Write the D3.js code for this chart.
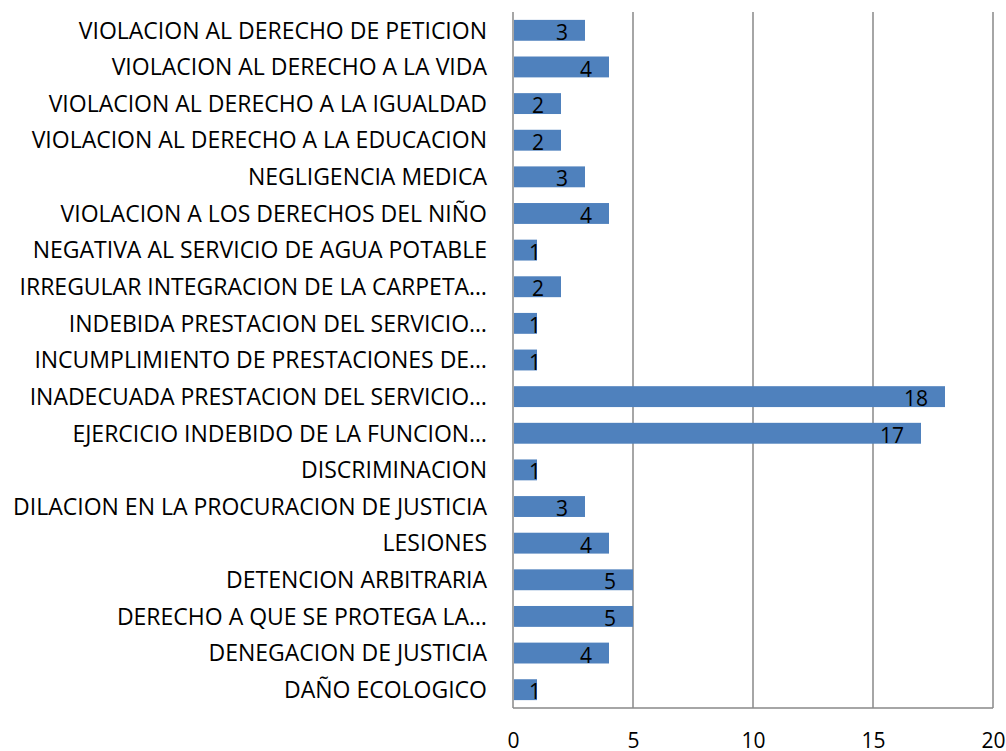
<!DOCTYPE html>
<html lang="es">
<head>
    <meta charset="UTF-8">
    <title>Quejas por tipo de violacion</title>
    <script src="https://d3js.org/d3.v7.min.js"></script>
    <style>
        body { margin: 0; background: #fff; }
        svg text { font-family: "Open Sans", sans-serif; fill: #000; }
        .cat { font-size: 23px; }
        .val { font-size: 21px; }
        .tick text { font-size: 21px; }
    </style>
</head>
<body>
    <svg width="1006" height="751"></svg>
    <script>
        const categories = [
            "VIOLACION AL DERECHO DE PETICION",
            "VIOLACION AL DERECHO A LA VIDA",
            "VIOLACION AL DERECHO A LA IGUALDAD",
            "VIOLACION AL DERECHO A LA EDUCACION",
            "NEGLIGENCIA MEDICA",
            "VIOLACION A LOS DERECHOS DEL NIÑO",
            "NEGATIVA AL SERVICIO DE AGUA POTABLE",
            "IRREGULAR INTEGRACION DE LA CARPETA…",
            "INDEBIDA PRESTACION DEL SERVICIO…",
            "INCUMPLIMIENTO DE PRESTACIONES DE…",
            "INADECUADA PRESTACION DEL SERVICIO…",
            "EJERCICIO INDEBIDO DE LA FUNCION…",
            "DISCRIMINACION",
            "DILACION EN LA PROCURACION DE JUSTICIA",
            "LESIONES",
            "DETENCION ARBITRARIA",
            "DERECHO A QUE SE PROTEGA LA…",
            "DENEGACION DE JUSTICIA",
            "DAÑO ECOLOGICO"
        ];
        const values = [3, 4, 2, 2, 3, 4, 1, 2, 1, 1, 18, 17, 1, 3, 4, 5, 5, 4, 1];
        const xTicks = [0, 5, 10, 15, 20];

        const svg = d3.select("svg");
        const plotLeft = 513, plotRight = 993, plotTop = 12, plotBottom = 708;

        const x = d3.scaleLinear().domain([0, 20]).range([plotLeft, plotRight]);
        const y = d3.scaleBand().domain(categories).range([plotTop, plotBottom]).paddingInner(0.43).paddingOuter(0.215);

        // vertical gridlines
        svg.append("g")
            .selectAll("line")
            .data(xTicks)
            .join("line")
            .attr("x1", d => x(d)).attr("x2", d => x(d))
            .attr("y1", plotTop).attr("y2", plotBottom)
            .attr("stroke", "#898989")
            .attr("stroke-width", 1.5);

        // bottom axis line
        svg.append("line")
            .attr("x1", plotLeft).attr("x2", plotRight)
            .attr("y1", plotBottom).attr("y2", plotBottom)
            .attr("stroke", "#898989")
            .attr("stroke-width", 1.5);

        // bars
        svg.append("g")
            .selectAll("rect")
            .data(values)
            .join("rect")
            .attr("x", x(0) + 1)
            .attr("y", (d, i) => y(categories[i]))
            .attr("width", d => x(d) - x(0) - 1)
            .attr("height", y.bandwidth())
            .attr("fill", "#4F81BD");

        // value labels
        svg.append("g")
            .selectAll("text")
            .data(values)
            .join("text")
            .attr("class", "val")
            .attr("x", d => Math.max(x(d) - 17, x(0) + 28))
            .attr("y", (d, i) => y(categories[i]) + y.bandwidth() / 2 + 2)
            .attr("dy", "0.36em")
            .attr("text-anchor", "end")
            .text(d => d);

        // category labels
        svg.append("g")
            .selectAll("text")
            .data(categories)
            .join("text")
            .attr("class", "cat")
            .attr("x", plotLeft - 26)
            .attr("y", d => y(d) + y.bandwidth() / 2)
            .attr("dy", "0.36em")
            .attr("text-anchor", "end")
            .text(d => d);

        // x axis tick labels
        const xAxis = d3.axisBottom(x).tickValues(xTicks).tickSize(0).tickPadding(25);
        svg.append("g")
            .attr("transform", `translate(0,${plotBottom})`)
            .call(xAxis)
            .call(g => g.select(".domain").remove());
    </script>
</body>
</html>
